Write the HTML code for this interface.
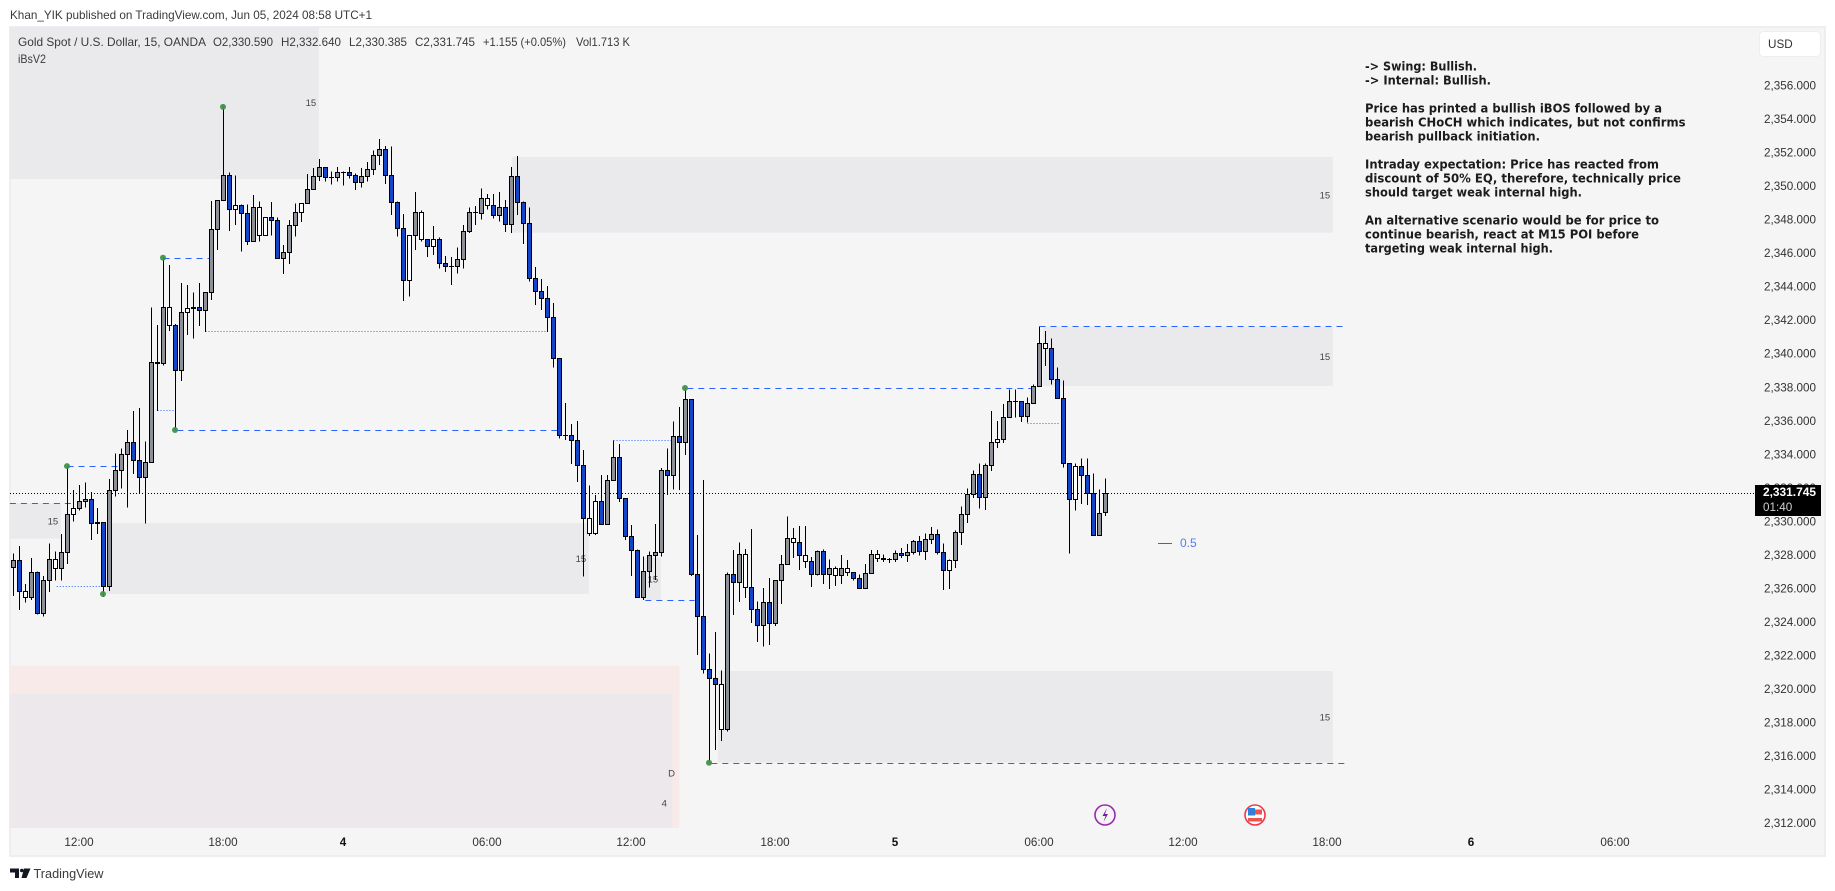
<!DOCTYPE html>
<html lang="en">
<head>
<meta charset="utf-8">
<title>Gold Spot / U.S. Dollar chart</title>
<style>
html,body{margin:0;padding:0;background:#fff;width:1835px;height:891px;overflow:hidden}
svg{display:block;font-family:"Liberation Sans",sans-serif}
.ann{font-family:"DejaVu Sans","Liberation Sans",sans-serif;font-size:12.5px;font-weight:bold;fill:#1c1c1c}
</style>
</head>
<body>
<svg id="chart" xmlns="http://www.w3.org/2000/svg" width="1835" height="891" viewBox="0 0 1835 891">
  <defs><clipPath id="plot-clip"><rect x="10" y="27" width="1745" height="801"/></clipPath></defs>
  <text x="10" y="19" font-size="12" fill="#3a3a3a" textLength="362" lengthAdjust="spacingAndGlyphs">Khan_YIK published on TradingView.com, Jun 05, 2024 08:58 UTC+1</text>
  <rect x="10" y="27" width="1815" height="829" fill="#f6f5f6" stroke="#eceef2" stroke-width="2"/>
  <g id="zones" clip-path="url(#plot-clip)"></g>
  <g id="levels"></g>
  <g id="last-line"></g>
  <g id="candles" shape-rendering="crispEdges"></g>
  <g id="pivots"></g>

  <g font-size="11.7" fill="#3a3a3a">
    <text x="18" y="46" textLength="188" lengthAdjust="spacingAndGlyphs">Gold Spot / U.S. Dollar, 15, OANDA</text>
    <text x="213" y="46" textLength="60" lengthAdjust="spacingAndGlyphs">O2,330.590</text>
    <text x="281" y="46" textLength="60" lengthAdjust="spacingAndGlyphs">H2,332.640</text>
    <text x="349" y="46" textLength="58" lengthAdjust="spacingAndGlyphs">L2,330.385</text>
    <text x="415" y="46" textLength="60" lengthAdjust="spacingAndGlyphs">C2,331.745</text>
    <text x="483" y="46" textLength="83" lengthAdjust="spacingAndGlyphs">+1.155 (+0.05%)</text>
    <text x="576" y="46" textLength="54" lengthAdjust="spacingAndGlyphs">Vol1.713 K</text>
    <text x="18" y="63" textLength="28" lengthAdjust="spacingAndGlyphs">iBsV2</text>
  </g>

  <g>
    <text class="ann" x="1365" y="70.5" textLength="112" lengthAdjust="spacingAndGlyphs">-&gt; Swing: Bullish.</text>
    <text class="ann" x="1365" y="84.5" textLength="126" lengthAdjust="spacingAndGlyphs">-&gt; Internal: Bullish.</text>
    <text class="ann" x="1365" y="112.5" textLength="297" lengthAdjust="spacingAndGlyphs">Price has printed a bullish iBOS followed by a</text>
    <text class="ann" x="1365" y="126.5" textLength="320.5" lengthAdjust="spacingAndGlyphs">bearish CHoCH which indicates, but not confirms</text>
    <text class="ann" x="1365" y="140.5" textLength="175" lengthAdjust="spacingAndGlyphs">bearish pullback initiation.</text>
    <text class="ann" x="1365" y="168.5" textLength="294" lengthAdjust="spacingAndGlyphs">Intraday expectation: Price has reacted from</text>
    <text class="ann" x="1365" y="182.5" textLength="316" lengthAdjust="spacingAndGlyphs">discount of 50% EQ, therefore, technically price</text>
    <text class="ann" x="1365" y="196.5" textLength="217" lengthAdjust="spacingAndGlyphs">should target weak internal high.</text>
    <text class="ann" x="1365" y="224.5" textLength="294" lengthAdjust="spacingAndGlyphs">An alternative scenario would be for price to</text>
    <text class="ann" x="1365" y="238.5" textLength="274" lengthAdjust="spacingAndGlyphs">continue bearish, react at M15 POI before</text>
    <text class="ann" x="1365" y="252.5" textLength="188" lengthAdjust="spacingAndGlyphs">targeting weak internal high.</text>
  </g>

  <g>
    <line x1="1158" x2="1172" y1="543.5" y2="543.5" stroke="#2962ff" stroke-width="1"/>
    <text x="1180" y="547" font-size="12" fill="#4f7df0">0.5</text>
  </g>

  <g id="y-axis"></g>
  <g id="x-axis"></g>

  <g>
    <rect x="1759.5" y="31.5" width="61" height="25" rx="4" fill="#fff" stroke="#eceef2"/>
    <text x="1768" y="48" font-size="11.7" fill="#333">USD</text>
  </g>

  <g>
    <rect x="1755" y="485" width="66" height="31" fill="#000"/>
    <text x="1763" y="496" font-size="11.7" font-weight="bold" fill="#fff" textLength="53" lengthAdjust="spacingAndGlyphs">2,331.745</text>
    <text x="1763" y="511" font-size="11.7" fill="#cfcfcf">01:40</text>
  </g>

  <g>
    <circle cx="1105" cy="815" r="10" fill="#f6f5f6" stroke="#9c27b0" stroke-width="1.6"/>
    <path d="M1107 808 L1102.5 816 H1105.5 L1103.5 822 L1108 814 H1105 Z" fill="#7b1fa2"/>
  </g>
  <g>
    <circle cx="1255" cy="815" r="10" fill="#fff" stroke="#f23645" stroke-width="1.6"/>
    <rect x="1248" y="808" width="7" height="7.5" fill="#2f80d8"/>
    <rect x="1255" y="809.5" width="7" height="5" fill="#ef5350"/>
    <rect x="1248" y="818" width="14" height="3.5" fill="#ef5350"/>
  </g>

  <g>
    <path d="M10 868.5H19V878H15V872.5H10Z M24 868.5H30.5L26.5 878H21.5Z" fill="#131722"/>
    <circle cx="21.8" cy="870.5" r="1.8" fill="#131722"/>
    <text x="33.5" y="878" font-size="13" fill="#3a3a3a" textLength="70" lengthAdjust="spacingAndGlyphs">TradingView</text>
  </g>
</svg>
<script>
var openPrices = [
2327.33,2327.72,2325.90,2325.52,2327.03,2324.58,2326.55,2327.81,2327.27,2328.22,
2330.49,2330.85,2331.27,2331.39,2330.01,2330.01,2326.20,2331.92,2333.12,2334.07,
2334.79,2333.71,2332.70,2333.59,2339.56,2339.50,2342.84,2341.77,2339.08,2342.54,
2342.84,2342.84,2342.66,2343.74,2347.50,2349.23,2350.72,2348.69,2348.93,2348.45,
2346.78,2348.81,2347.14,2348.21,2348.03,2345.77,2346.13,2347.74,2348.51,2349.05,
2349.88,2350.66,2351.20,2350.60,2350.60,2350.90,2350.90,2350.72,2350.28,2350.66,
2351.08,2351.91,2352.27,2350.72,2349.11,2347.56,2344.45,2347.14,2348.51,2346.90,
2346.48,2346.90,2345.47,2345.29,2345.29,2345.71,2347.38,2348.51,2348.45,2349.35,
2348.93,2348.33,2348.81,2347.80,2350.66,2349.11,2347.86,2344.57,2343.77,2343.38,
2342.25,2339.80,2335.21,2335.21,2334.91,2333.42,2330.25,2329.36,2331.27,2329.90,
2332.52,2333.89,2331.45,2329.18,2328.34,2325.54,2327.09,2328.04,2328.22,2333.12,
2332.82,2335.15,2334.79,2337.35,2326.91,2324.41,2321.24,2320.71,2320.35,2317.66,
2326.91,2326.43,2328.10,2326.14,2324.82,2323.87,2325.24,2323.99,2326.55,2327.51,
2329.06,2328.82,2328.04,2327.69,2326.91,2328.28,2326.91,2327.27,2326.85,2327.27,
2327.03,2326.67,2326.08,2326.97,2328.10,2327.87,2327.81,2327.81,2328.16,2328.04,
2328.22,2328.88,2328.28,2329.00,2329.30,2328.22,2327.15,2327.75,2329.42,2330.49,
2331.68,2332.88,2331.51,2333.42,2334.79,2334.97,2336.28,2337.23,2337.23,2336.34,
2337.12,2338.13,2340.70,2340.40,2338.55,2337.41,2333.53,2331.39,2333.36,2332.82,
2331.74,2329.24,2330.59];
var closePrices = [
2327.72,2325.87,2325.54,2327.03,2324.58,2326.55,2327.81,2327.27,2328.22,2330.49,
2330.85,2331.27,2331.39,2329.95,2329.95,2326.20,2331.92,2333.12,2334.07,2334.79,
2333.71,2332.70,2333.59,2339.56,2339.50,2342.84,2341.77,2339.08,2342.54,2342.78,
2342.78,2342.66,2343.74,2347.50,2349.23,2350.72,2348.69,2348.93,2348.45,2346.78,
2348.81,2347.14,2348.21,2348.03,2345.77,2346.13,2347.74,2348.51,2349.05,2349.88,
2350.66,2351.20,2350.60,2350.60,2350.90,2350.90,2350.72,2350.28,2350.66,2351.08,
2351.91,2352.27,2350.72,2349.11,2347.56,2344.45,2347.14,2348.51,2346.90,2346.48,
2346.90,2345.47,2345.29,2345.29,2345.71,2347.38,2348.51,2348.51,2349.35,2348.93,
2348.33,2348.81,2347.80,2350.66,2349.11,2347.86,2344.57,2343.77,2343.38,2342.25,
2339.80,2335.21,2335.21,2334.91,2333.42,2330.25,2329.36,2331.27,2329.90,2332.52,
2333.89,2331.45,2329.18,2328.34,2325.54,2327.09,2328.04,2328.22,2333.12,2332.82,
2335.15,2334.79,2337.35,2326.91,2324.41,2321.24,2320.71,2320.35,2317.66,2326.91,
2326.43,2328.10,2326.14,2324.82,2323.87,2325.24,2323.99,2326.55,2327.51,2329.06,
2328.82,2328.04,2327.69,2326.91,2328.28,2326.91,2327.27,2326.85,2327.27,2327.03,
2326.67,2326.08,2326.97,2328.10,2327.87,2327.81,2327.81,2328.16,2328.04,2328.22,
2328.88,2328.28,2329.00,2329.30,2328.22,2327.15,2327.75,2329.42,2330.49,2331.68,
2332.88,2331.51,2333.42,2334.79,2334.97,2336.28,2337.23,2337.23,2336.34,2337.12,
2338.13,2340.70,2340.40,2338.55,2337.41,2333.53,2331.39,2333.36,2332.82,2331.74,
2329.24,2330.55,2331.745];
var highPrices = [
2328.16,2328.60,2326.33,2327.88,2327.09,2326.81,2328.76,2328.28,2329.32,2333.37,
2331.94,2332.24,2332.40,2331.82,2330.87,2330.03,2332.60,2334.13,2334.43,2335.52,
2336.66,2336.83,2334.85,2342.84,2341.79,2345.80,2345.37,2341.85,2344.28,2344.17,
2343.74,2344.28,2343.76,2349.19,2349.25,2354.80,2350.90,2350.72,2348.99,2348.99,
2349.53,2349.17,2348.21,2349.13,2348.21,2346.56,2348.05,2349.05,2349.05,2350.80,
2351.14,2351.69,2351.20,2350.96,2351.20,2350.96,2351.20,2350.84,2351.14,2351.50,
2352.21,2352.87,2352.47,2352.43,2349.17,2348.41,2347.16,2349.72,2348.63,2346.90,
2347.68,2347.02,2345.89,2345.83,2346.42,2347.74,2348.81,2348.89,2349.94,2349.60,
2349.60,2349.71,2349.25,2351.22,2351.87,2349.17,2348.81,2345.25,2344.53,2344.11,
2343.10,2339.80,2337.13,2335.88,2336.06,2334.33,2332.22,2331.64,2332.84,2332.84,
2334.91,2334.69,2331.45,2329.85,2328.40,2327.96,2328.28,2329.91,2333.24,2334.43,
2336.04,2336.89,2338.03,2337.35,2329.26,2332.54,2322.20,2323.47,2321.18,2327.03,
2328.36,2328.82,2328.42,2329.61,2325.30,2326.08,2326.69,2326.57,2328.06,2330.37,
2329.67,2329.79,2329.79,2327.93,2328.34,2328.40,2327.81,2327.39,2328.06,2327.76,
2327.03,2326.91,2327.53,2328.36,2328.36,2328.10,2327.87,2328.34,2328.48,2328.72,
2328.96,2329.20,2329.36,2329.73,2329.60,2328.76,2327.81,2329.54,2330.97,2332.04,
2333.12,2333.53,2333.53,2336.66,2336.06,2337.07,2337.95,2337.95,2337.23,2337.47,
2338.25,2341.71,2341.43,2340.99,2339.26,2338.49,2333.53,2333.53,2333.83,2333.83,
2332.94,2331.98,2332.64];
var lowPrices = [
2325.62,2324.78,2325.22,2325.38,2324.50,2324.38,2325.87,2326.53,2326.53,2327.53,
2330.05,2330.71,2330.91,2328.96,2329.32,2325.57,2325.92,2331.54,2332.02,2330.89,
2332.90,2331.74,2329.93,2333.59,2336.66,2339.36,2341.43,2335.52,2338.45,2341.19,
2340.97,2341.73,2341.37,2343.28,2346.26,2349.23,2347.41,2347.75,2346.16,2346.56,
2346.78,2346.78,2347.14,2347.14,2345.71,2344.83,2345.43,2347.06,2347.93,2349.05,
2349.88,2350.38,2350.34,2350.18,2350.34,2350.12,2350.54,2349.84,2349.98,2350.34,
2350.74,2351.33,2350.20,2348.35,2347.06,2343.22,2343.48,2346.26,2346.78,2345.83,
2345.96,2345.17,2344.95,2344.17,2344.87,2345.15,2347.29,2347.74,2348.09,2348.69,
2348.15,2347.95,2347.35,2347.29,2348.35,2346.62,2344.37,2342.98,2342.68,2341.37,
2339.24,2335.00,2334.93,2333.49,2332.42,2326.77,2329.20,2329.27,2329.90,2329.90,
2332.52,2331.24,2328.96,2326.81,2325.54,2325.38,2326.11,2326.57,2327.96,2331.64,
2331.98,2331.94,2334.03,2326.81,2322.10,2320.99,2315.67,2316.43,2316.96,2317.54,
2324.48,2325.26,2325.50,2324.01,2322.87,2322.59,2322.69,2323.83,2325.14,2327.51,
2327.88,2327.17,2327.29,2326.15,2326.85,2326.33,2326.03,2326.21,2326.33,2326.81,
2326.53,2326.08,2326.08,2326.97,2327.65,2327.65,2327.59,2327.65,2327.87,2327.65,
2328.10,2328.04,2327.76,2328.72,2328.10,2325.97,2326.03,2327.29,2328.66,2329.97,
2331.45,2330.85,2330.75,2333.08,2334.45,2334.75,2336.28,2336.28,2336.00,2335.96,
2337.12,2338.13,2339.34,2338.23,2337.41,2333.27,2328.16,2330.71,2331.11,2331.05,
2329.24,2329.24,2330.385];
var barTones = ("gbwgbggwgg"+"wggbbbgggg"+"bbggbgwbgw"+"bbggggbwbb"+"gwwbbgggwg"+"ggbbgbbbgg"+"ggbbbbwgwb"+"wbbbgggbgw"+"bgbgbbbbbb"+"bbbbbbwwbg"+"gbbbbggggb"+"gbgbbbbbwg"+"bgwbbgbggg"+"wbwbgbgwgw"+"bbggwbbgbg"+"gbggbbwggg"+"gbggwggbbg"+"ggwbbbbwbb"+"bgg").split("");

var priceTicks = [2356,2354,2352,2350,2348,2346,2344,2342,2340,2338,2336,2334,2332,2330,2328,2326,2324,2322,2320,2318,2316,2314,2312];
var timeTickBars = [11,35,55,79,103,127,147,171,195,219,243,267];
var timeTickLabels = ["12:00","18:00","4","06:00","12:00","18:00","5","06:00","12:00","18:00","6","06:00"];
var lastPrice = 2331.745;

var zoneLabels = ["15","15","15","15","15","15","15","D","4"];
var zoneStartBars = [-0.6,-0.6,83.1,171.6,15.4,104.9,117.4,-0.6,-0.6];
var zoneEndBars = [50.9,7.9,219.9,219.9,95.9,107.9,219.9,111.0,109.8];
var zoneTopPrices = [2359.63,2331.17,2351.81,2341.69,2329.97,2327.90,2321.14,2321.46,2319.77];
var zoneBottomPrices = [2350.50,2329.04,2347.30,2338.15,2325.74,2325.38,2315.67,2308.67,2306.76];
var zoneKinds = ["grey","grey","grey","grey","grey","grey","grey","pink","mauve"];

var levelStartBars = [25,-0.6,9,7.2,27.3,32,24,112.3,100,105.3,171,116.3,169];
var levelEndBars = [33,10,18,15,91,89,27,170,110,113.5,222,222,174.5];
var levelPrices = [2345.77,2331.15,2333.37,2326.20,2335.49,2341.37,2336.66,2338.01,2334.91,2325.36,2341.71,2315.63,2335.92];
var levelKinds = ["dash","dash","dash","dot","dash","dot","dot","dash","dot","dash","dash","dash","dot"];

var pivotBars = [9,15,25,27,35,112,116];
var pivotPrices = [2333.37,2325.74,2345.80,2335.52,2354.80,2338.03,2315.67];

var NS = "http://www.w3.org/2000/svg";
function xScale(bar){ return 13.5 + 6 * bar; }
function yScale(price){ return 493.3 + (lastPrice - price) * 16.76; }
function snap(v){ return Math.round(v - 0.5) + 0.5; }
function make(tag, parent, attrs){
  var el = document.createElementNS(NS, tag);
  for (var k in attrs) el.setAttribute(k, attrs[k]);
  parent.appendChild(el);
  return el;
}
var toneFill = { g: "#8d9096", b: "#1345c9", w: "#ffffff" };
var zoneFill = { grey: "#eaeaec", pink: "#f9eaea", mauve: "#ece8eb" };

var zonesG = document.getElementById("zones");
zoneLabels.forEach(function(label, i){
  var x1 = xScale(zoneStartBars[i]), x2 = xScale(zoneEndBars[i]);
  var y1 = yScale(zoneTopPrices[i]), y2 = yScale(zoneBottomPrices[i]);
  var r = make("rect", zonesG, { x: x1, y: y1, width: x2 - x1, height: y2 - y1, fill: zoneFill[zoneKinds[i]] });
  
  
});
var zoneTextG = make("g", document.getElementById("chart"), {});
document.getElementById("chart").insertBefore(zoneTextG, document.getElementById("levels"));
zoneLabels.forEach(function(label, i){
  var x2 = xScale(zoneEndBars[i]);
  var ym = (yScale(zoneTopPrices[i]) + yScale(zoneBottomPrices[i])) / 2;
  var t = make("text", zoneTextG, { x: x2 - 8, y: ym + 3.5, "text-anchor": "middle", "font-size": 9.5, fill: "#444" });
  t.textContent = label;
  
  
});

var levelsG = document.getElementById("levels");
levelPrices.forEach(function(p, i){
  var y = snap(yScale(p));
  var l = make("line", levelsG, { x1: xScale(levelStartBars[i]), x2: xScale(levelEndBars[i]), y1: y, y2: y, stroke: "#2962ff", "stroke-width": 1, "stroke-dasharray": levelKinds[i] === "dash" ? "6 5" : "1 2" });
  
  
});

var lastY = snap(yScale(lastPrice));
var lastLine = make("line", document.getElementById("last-line"), { x1: 10, x2: 1755, y1: lastY, y2: lastY, stroke: "#000", "stroke-width": 1, "stroke-dasharray": "1 2" });



var candlesG = document.getElementById("candles");
openPrices.forEach(function(o, i){
  var c = closePrices[i], x = xScale(i);
  var yTop = snap(yScale(Math.max(o, c))), yBot = snap(yScale(Math.min(o, c)));
  var g = make("g", candlesG, {});
  
  
  var wick = make("line", g, { x1: x, x2: x, y1: yScale(highPrices[i]), y2: yScale(lowPrices[i]), stroke: "#000", "stroke-width": 1 });
  
  
  var body;
  if (yBot - yTop < 0.5) {
    body = make("line", g, { x1: x - 2.5, x2: x + 2.5, y1: yTop, y2: yTop, stroke: "#000", "stroke-width": 1 });
  } else {
    body = make("rect", g, { x: x - 2, y: yTop, width: 4, height: yBot - yTop, fill: toneFill[barTones[i]], stroke: "#000", "stroke-width": 1 });
  }
  
  
});

var pivotsG = document.getElementById("pivots");
pivotBars.forEach(function(bar, i){
  var d = make("circle", pivotsG, { cx: xScale(bar) - 0.5, cy: yScale(pivotPrices[i]), r: 3, fill: "#3f9148", opacity: 0.95 });
  
  
});

var yAxis = document.getElementById("y-axis");
priceTicks.forEach(function(p){
  var t = make("text", yAxis, { x: 1816, y: yScale(p) + 2.8, "text-anchor": "end", "font-size": 11.7, fill: "#333" });
  t.textContent = p.toLocaleString("en-US") + ".000";
  
  
});

var xAxis = document.getElementById("x-axis");
timeTickBars.forEach(function(bar, i){
  var isDay = timeTickLabels[i].length === 1;
  var t = make("text", xAxis, { x: xScale(bar) - 0.5, y: 846, "text-anchor": "middle", "font-size": 11.7, fill: isDay ? "#111" : "#333", "font-weight": isDay ? "bold" : "normal" });
  t.textContent = timeTickLabels[i];
  
  
});
</script>
</body>
</html>
